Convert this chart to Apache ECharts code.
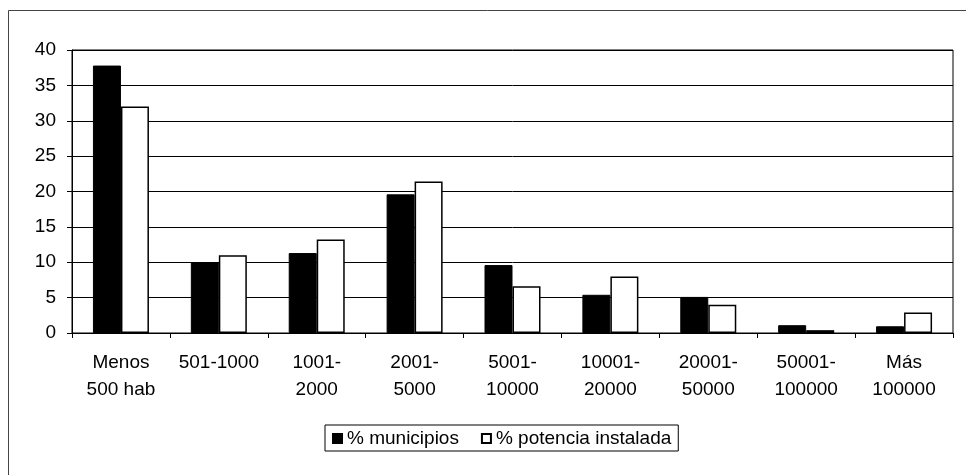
<!DOCTYPE html>
<html>
<head>
<meta charset="utf-8">
<script src="https://cdn.jsdelivr.net/npm/echarts@6/dist/echarts.min.js"></script>
<style>
  html, body { margin: 0; padding: 0; background: #fff; }
  #container { width: 966px; height: 475px; }
</style>
</head>
<body>
<div id="container"></div>
<script>
// categorias (tamano de municipio)
var categorias = ['Menos\n500 hab', '501-1000', '1001-\n2000', '2001-\n5000', '5001-\n10000',
                  '10001-\n20000', '20001-\n50000', '50001-\n100000', 'Más\n100000'];
var municipios = [37.8, 10.0, 11.3, 19.6, 9.6, 5.4, 5.1, 1.1, 0.95];
var potencia   = [32.0, 11.0, 13.2, 21.4, 6.6, 8.0, 4.0, 0.4, 2.9];
var ticksY = { min: 0, max: 40, interval: 5 };

var fuente = "'Liberation Sans', Arial, sans-serif";

var dom = document.getElementById("container");
var myChart = echarts.init(dom);
var option = {
    backgroundColor: '#fff',
    animation: false,
    textStyle: { fontFamily: fuente, color: '#000' },
    graphic: [{
        type: 'rect',
        shape: { x: 8.5, y: 10.5, width: 1000, height: 500 },
        style: { fill: 'none', stroke: '#444', lineWidth: 1 },
        silent: true
    }],
    grid: {
        left: 72, right: 13, top: 50, bottom: 142,
        show: true, borderColor: '#000', borderWidth: 1
    },
    legend: {
        left: 325, top: 425,
        padding: [4, 7, 3, 7],
        borderColor: '#000', borderWidth: 1,
        itemWidth: 9, itemHeight: 9, itemGap: 22,
        icon: 'rect',
        textStyle: { fontFamily: fuente, fontSize: 19, color: '#000' },
        data: ['% municipios', '% potencia instalada']
    },
    xAxis: {
        type: 'category',
        data: categorias,
        axisLine: { lineStyle: { color: '#000', width: 1 } },
        axisTick: { show: true, length: 5, lineStyle: { color: '#000' } },
        axisLabel: {
            color: '#000', fontSize: 19, fontFamily: fuente,
            lineHeight: 27, margin: 16, interval: 0, align: 'center'
        }
    },
    yAxis: {
        type: 'value',
        min: ticksY.min, max: ticksY.max, interval: ticksY.interval,
        axisLine: { show: true, lineStyle: { color: '#000', width: 1 } },
        axisTick: { show: true, length: 5, lineStyle: { color: '#000' } },
        axisLabel: { color: '#000', fontSize: 19, fontFamily: fuente, margin: 16 },
        splitLine: { show: true, lineStyle: { color: '#000', width: 1 } }
    },
    series: [
        {
            name: '% municipios',
            type: 'bar',
            data: municipios,
            barWidth: 28,
            barGap: '0%',
            itemStyle: { color: '#000', borderColor: '#000', borderWidth: 1 }
        },
        {
            name: '% potencia instalada',
            type: 'bar',
            data: potencia,
            barWidth: 28,
            barGap: '0%',
            itemStyle: { color: '#fff', borderColor: '#000', borderWidth: 1.5 }
        }
    ]
};
if (option && typeof option === "object") {
    myChart.setOption(option, true);
}
</script>
</body>
</html>
